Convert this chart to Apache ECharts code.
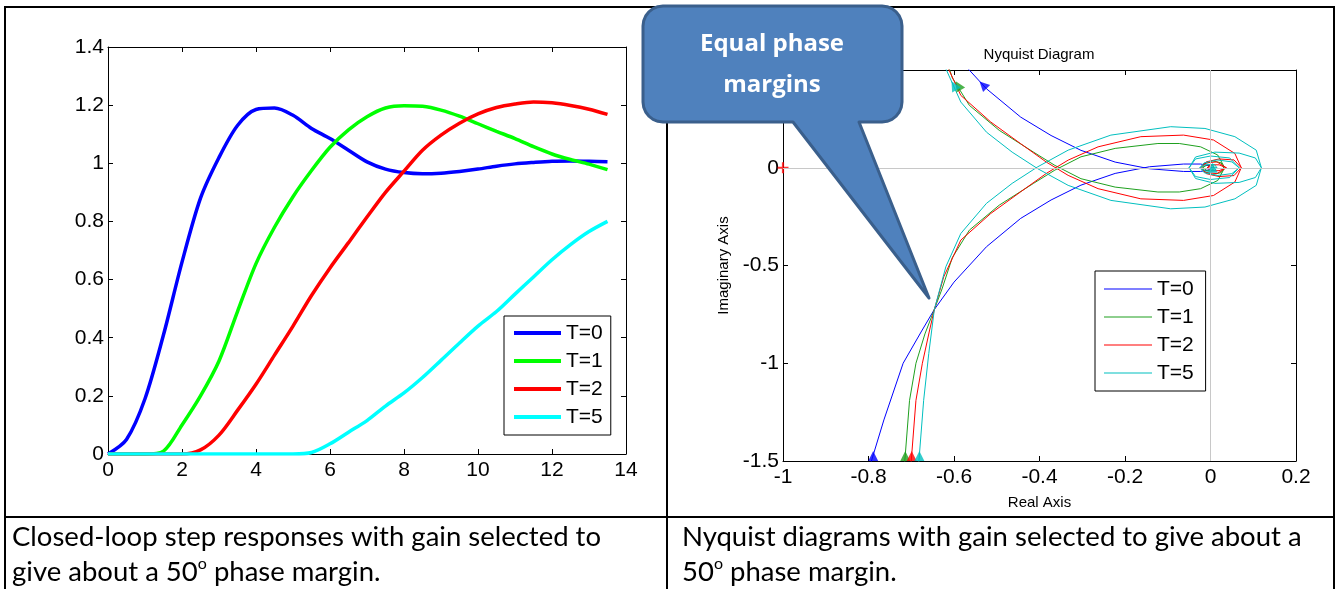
<!DOCTYPE html>
<html>
<head>
<meta charset="utf-8">
<script src="https://cdn.jsdelivr.net/npm/echarts@6/dist/echarts.min.js"></script>
<style>
html, body { margin: 0; padding: 0; background: #fff; }
#main { width: 1339px; height: 589px; }
</style>
</head>
<body>
<div id="main"></div>
<script>
var chartDom = document.getElementById('main');
var myChart = echarts.init(chartDom);

// ---- left: closed-loop step responses ----
var stepTime = [0, 0.5, 1, 1.5, 2, 2.5, 3, 3.5, 4, 4.5, 5, 5.5, 6, 6.5, 7, 7.5, 8, 8.5, 9, 9.5, 10, 10.5, 11, 11.5, 12, 12.5, 13, 13.5];
var stepT0 = [0, 0.05, 0.19, 0.41, 0.66, 0.88, 1.02, 1.13, 1.185, 1.19, 1.165, 1.12, 1.085, 1.045, 1.005, 0.98, 0.968, 0.964, 0.966, 0.972, 0.98, 0.99, 0.998, 1.003, 1.007, 1.008, 1.007, 1.005];
var stepT1 = [0, 0, 0, 0.01, 0.10, 0.20, 0.32, 0.49, 0.655, 0.78, 0.885, 0.975, 1.055, 1.115, 1.16, 1.19, 1.198, 1.196, 1.183, 1.162, 1.136, 1.11, 1.085, 1.057, 1.032, 1.013, 0.997, 0.978];
var stepT2 = [0, 0, 0, 0, 0, 0.014, 0.065, 0.15, 0.24, 0.34, 0.44, 0.545, 0.64, 0.727, 0.815, 0.90, 0.973, 1.045, 1.097, 1.138, 1.17, 1.192, 1.204, 1.211, 1.208, 1.199, 1.186, 1.168];
var stepT5 = [0, 0, 0, 0, 0, 0, 0, 0, 0, 0, 0, 0.005, 0.035, 0.075, 0.115, 0.165, 0.21, 0.263, 0.322, 0.382, 0.44, 0.49, 0.55, 0.609, 0.668, 0.72, 0.765, 0.80];

// ---- right: nyquist, positive frequency branch [re, im] (low freq -> origin) ----
var nyqT0 = [[-0.800, -1.55], [-0.789, -1.47], [-0.764, -1.29], [-0.719, -1.00], [-0.677, -0.84], [-0.646, -0.725], [-0.600, -0.585], [-0.524, -0.404], [-0.444, -0.259], [-0.373, -0.165], [-0.303, -0.089], [-0.223, -0.029], [-0.143, 0.005], [-0.063, 0.019], [-0.023, 0.019], [-0.002, 0.010], [0.004, 0]];
var nyqT1 = [[-0.717, -1.55], [-0.714, -1.47], [-0.704, -1.19], [-0.689, -1.00], [-0.668, -0.85], [-0.646, -0.725], [-0.628, -0.62], [-0.604, -0.46], [-0.564, -0.319], [-0.494, -0.191], [-0.414, -0.080], [-0.364, -0.012], [-0.303, 0.056], [-0.223, 0.099], [-0.123, 0.124], [-0.073, 0.124], [-0.023, 0.107], [0.017, 0.065], [0.032, 0.005], [0.025, -0.025], [0.005, -0.035], [-0.015, -0.020], [-0.018, 0], [-0.008, 0.015], [0.005, 0.012], [0.008, 0], [0.002, -0.004], [0, 0]];
var nyqT2 = [[-0.702, -1.55], [-0.699, -1.47], [-0.689, -1.19], [-0.674, -1.00], [-0.657, -0.83], [-0.646, -0.725], [-0.624, -0.558], [-0.584, -0.370], [-0.514, -0.234], [-0.444, -0.123], [-0.384, -0.029], [-0.333, 0.039], [-0.263, 0.107], [-0.163, 0.159], [-0.063, 0.167], [0.007, 0.142], [0.057, 0.073], [0.072, 0], [0.055, -0.040], [0.020, -0.045], [-0.010, -0.030], [-0.023, 0], [-0.010, 0.025], [0.015, 0.030], [0.037, 0], [0.020, -0.015], [0, -0.015], [-0.008, 0], [0, 0.006], [0.003, 0]];
var nyqT5 = [[-0.684, -1.55], [-0.681, -1.47], [-0.671, -1.19], [-0.659, -0.95], [-0.646, -0.725], [-0.619, -0.506], [-0.584, -0.336], [-0.524, -0.182], [-0.464, -0.080], [-0.404, 0.005], [-0.333, 0.090], [-0.233, 0.167], [-0.093, 0.210], [-0.013, 0.201], [0.057, 0.159], [0.107, 0.090], [0.119, 0], [0.105, -0.050], [0.067, -0.075], [0.010, -0.080], [-0.035, -0.055], [-0.050, 0], [-0.035, 0.045], [0, 0.060], [0.045, 0.050], [0.067, 0], [0.050, -0.030], [0.015, -0.040], [-0.015, -0.025], [-0.025, 0], [-0.010, 0.018], [0.010, 0.015], [0.015, 0], [0, -0.005], [0, 0]];

// direction arrows on the nyquist curves
var arrowPts = [[-0.789, -1.475], [-0.714, -1.475], [-0.699, -1.475], [-0.681, -1.475], [-0.532, 0.423], [-0.59, 0.42], [-0.60, 0.42], [0.005, 0]];
var arrowCurve = [0, 1, 2, 3, 0, 1, 3, 3];
var arrowDir = [0, 0, 0, 0, 45, 30, 30, 0];

var names = ['T=0', 'T=1', 'T=2', 'T=5'];
var stepColors = ['#0000ff', '#00ff00', '#ff0000', '#00ffff'];
var nyqColors = ['#0000ff', '#1fa01f', '#ff0000', '#00bfbf'];
var stepData = [stepT0, stepT1, stepT2, stepT5];
var nyqData = [nyqT0, nyqT1, nyqT2, nyqT5];

var tickFont = 'Liberation Sans, Arial, sans-serif';

// whole nyquist curve = branch + its conjugate mirror
function fullNyquist(branch) {
    var back = branch.slice().reverse().map(function (p) { return [p[0], -p[1]]; });
    return branch.concat(back);
}

function axis(o) {
    var a = {
        type: 'value',
        axisLine: { show: true, onZero: false, lineStyle: { color: '#000', width: 1 } },
        axisTick: { show: true, inside: true, length: 5, lineStyle: { color: '#000' } },
        axisLabel: { show: true, color: '#000', fontSize: 21, fontFamily: tickFont, margin: 6, showMinLabel: true, showMaxLabel: true },
        splitLine: { show: false }
    };
    for (var k in o) a[k] = o[k];
    return a;
}

var series = [];
names.forEach(function (n, i) {
    series.push({
        name: n,
        type: 'line',
        xAxisIndex: 0, yAxisIndex: 0,
        data: stepTime.map(function (t, j) { return [t, stepData[i][j]]; }),
        symbol: 'none',
        smooth: 0.3,
        lineStyle: { color: stepColors[i], width: 3.5 },
        itemStyle: { color: stepColors[i] }
    });
});

// gray axes through origin of nyquist plot
series.push({
    name: 'origin',
    type: 'line',
    xAxisIndex: 2, yAxisIndex: 2,
    data: [],
    markLine: {
        silent: true, symbol: ['none', 'none'], label: { show: false },
        lineStyle: { color: '#c8c8c8', width: 1, type: 'solid' },
        data: [{ xAxis: 0 }, { yAxis: 0 }]
    }
});

names.forEach(function (n, i) {
    series.push({
        name: n + ' ',
        type: 'line',
        xAxisIndex: 2, yAxisIndex: 2,
        data: fullNyquist(nyqData[i]),
        symbol: 'none',
        lineStyle: { color: nyqColors[i], width: 1 },
        itemStyle: { color: nyqColors[i] }
    });
});

// critical point -1
series.push({
    name: 'crit',
    type: 'scatter',
    xAxisIndex: 2, yAxisIndex: 2,
    data: [[-1, 0]],
    symbol: 'path://M4,0H6V4H10V6H6V10H4V6H0V4H4Z',
    symbolSize: 11,
    itemStyle: { color: '#ff0000' }
});

series.push({
    name: 'arrows',
    type: 'scatter',
    xAxisIndex: 2, yAxisIndex: 2,
    z: 5,
    data: arrowPts.map(function (p, i) {
        return { value: p, symbolRotate: arrowDir[i], itemStyle: { color: nyqColors[arrowCurve[i]] } };
    }),
    symbol: 'triangle',
    symbolSize: [10, 10]
});

// callout shape: rounded box with pointer
function calloutPoints(L, T, R, B, r, bx1, bx2, tip) {
    var pts = [];
    function arc(cx, cy, a0, a1) {
        for (var s = 0; s <= 6; s++) {
            var a = (a0 + (a1 - a0) * s / 6) * Math.PI / 180;
            pts.push([cx + r * Math.cos(a), cy + r * Math.sin(a)]);
        }
    }
    arc(L + r, T + r, 180, 270);
    arc(R - r, T + r, 270, 360);
    arc(R - r, B - r, 0, 90);
    pts.push([bx2, B]);
    pts.push(tip);
    pts.push([bx1, B]);
    arc(L + r, B - r, 90, 180);
    return pts;
}

function hline(y, x1, x2) { return { type: 'line', z: 50, shape: { x1: x1, y1: y, x2: x2, y2: y }, style: { stroke: '#000', lineWidth: 2 } }; }
function vline(x, y1, y2) { return { type: 'line', z: 50, shape: { x1: x, y1: y1, x2: x, y2: y2 }, style: { stroke: '#000', lineWidth: 2 } }; }

function caption(x, y, txt) {
    return {
        type: 'text', x: x, y: y, z: 50,
        style: {
            text: txt, fill: '#000', fontSize: 27.5, fontFamily: 'Lato, sans-serif',
            lineHeight: 32, align: 'left', textAlign: 'left', verticalAlign: 'middle', textVerticalAlign: 'middle',
            rich: { s: { fontSize: 16, lineHeight: 16, verticalAlign: 'top', fontFamily: 'Lato, sans-serif', fill: '#000' } }
        }
    };
}

function legendBox(data, left, top, width, lineH, pad) {
    return {
        data: data,
        orient: 'vertical', left: left, top: top,
        icon: 'rect',
        itemWidth: width, itemHeight: lineH, itemGap: 6,
        padding: pad,
        backgroundColor: '#fff', borderColor: '#000', borderWidth: 1, borderRadius: 0,
        textStyle: { color: '#000', fontSize: 21, fontFamily: tickFont, lineHeight: 22 }
    };
}

option = {
    animation: false,
    backgroundColor: '#fff',
    grid: [
        { left: 108, top: 47, width: 518, height: 407 },
        { left: 783, top: 70, width: 513, height: 391 }
    ],
    xAxis: [
        axis({ gridIndex: 0, position: 'bottom', min: 0, max: 14, interval: 2, axisLabel: { color: '#000', fontSize: 21, fontFamily: tickFont, margin: 6 } }),
        axis({ gridIndex: 0, position: 'top', min: 0, max: 14, interval: 2, axisLabel: { show: false } }),
        axis({
            gridIndex: 1, position: 'bottom', min: -1, max: 0.2, interval: 0.2,
            name: 'Real Axis', nameLocation: 'middle', nameGap: 34,
            nameTextStyle: { color: '#000', fontSize: 15, fontFamily: tickFont },
            axisLabel: { color: '#000', fontSize: 21, fontFamily: tickFont, margin: 6 }
        }),
        axis({ gridIndex: 1, position: 'top', min: -1, max: 0.2, interval: 0.2, axisLabel: { show: false } })
    ],
    yAxis: [
        axis({ gridIndex: 0, position: 'left', min: 0, max: 1.4, interval: 0.2, axisLabel: { color: '#000', fontSize: 21, fontFamily: tickFont, margin: 4 } }),
        axis({ gridIndex: 0, position: 'right', min: 0, max: 1.4, interval: 0.2, axisLabel: { show: false } }),
        axis({
            gridIndex: 1, position: 'left', min: -1.5, max: 0.5, interval: 0.5,
            name: 'Imaginary Axis', nameLocation: 'middle', nameGap: 52,
            nameTextStyle: { color: '#000', fontSize: 15, fontFamily: tickFont },
            axisLabel: { color: '#000', fontSize: 21, fontFamily: tickFont, margin: 4 }
        }),
        axis({ gridIndex: 1, position: 'right', min: -1.5, max: 0.5, interval: 0.5, axisLabel: { show: false } })
    ],
    legend: [
        legendBox(names, 504, 316, 47, 4, [6, 8, 7, 10]),
        legendBox(names.map(function (n) { return n + ' '; }), 1095, 271, 48, 1, [7, 6, 7, 9])
    ],
    graphic: [
        hline(7, 4, 1335),
        hline(517, 4, 1335),
        vline(5, 6, 589),
        vline(667, 6, 589),
        vline(1334, 6, 589),
        caption(12, 537, 'Closed-loop step responses with gain selected to'),
        caption(12, 572, 'give about a 50{s|o} phase margin.'),
        caption(682, 537, 'Nyquist diagrams with gain selected to give about a'),
        caption(682, 572, '50{s|o} phase margin.'),
        {
            type: 'text', x: 1039, y: 55, z: 50,
            style: { text: 'Nyquist Diagram', fill: '#000', fontSize: 15, fontFamily: tickFont, align: 'center', textAlign: 'center', verticalAlign: 'middle', textVerticalAlign: 'middle' }
        },
        {
            type: 'polygon', z: 100,
            shape: { points: calloutPoints(643, 6, 902, 122, 20, 793, 859, [929, 298]) },
            style: { fill: '#4f81bd', stroke: '#3a5f8c', lineWidth: 3, lineJoin: 'round' }
        },
        {
            type: 'text', x: 772, y: 44, z: 101,
            style: { text: 'Equal phase', fill: '#fff', fontSize: 24, fontWeight: 'bold', fontFamily: 'Open Sans, sans-serif', align: 'center', textAlign: 'center', verticalAlign: 'middle', textVerticalAlign: 'middle' }
        },
        {
            type: 'text', x: 772, y: 85, z: 101,
            style: { text: 'margins', fill: '#fff', fontSize: 24, fontWeight: 'bold', fontFamily: 'Open Sans, sans-serif', align: 'center', textAlign: 'center', verticalAlign: 'middle', textVerticalAlign: 'middle' }
        }
    ],
    series: series
};

if (option && typeof option === 'object') {
    myChart.setOption(option);
}
</script>
</body>
</html>
